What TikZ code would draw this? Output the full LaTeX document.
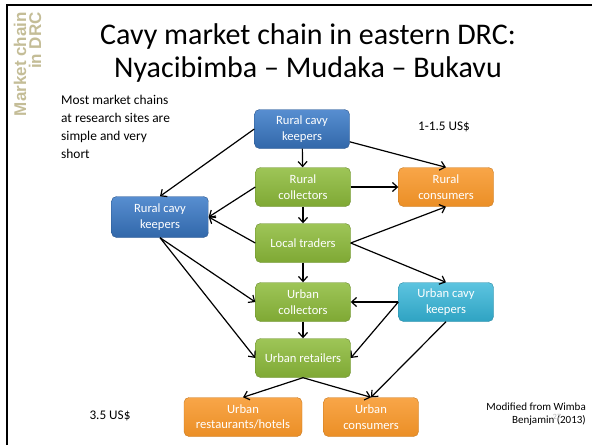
\documentclass[tikz,border=0pt]{standalone}
\usepackage{fontspec}
\setmainfont{Carlito}
\newfontfamily\sidefont{Liberation Sans}[UprightFont={* Bold}]
\usepackage{tikz}
\usetikzlibrary{arrows.meta}

\definecolor{sidekhaki}{RGB}{196,189,151}
\definecolor{boxblue}{RGB}{58,122,200}
\definecolor{boxgreen}{RGB}{141,187,58}
\definecolor{boxorange}{RGB}{247,150,40}
\definecolor{boxcyan}{RGB}{52,181,216}

\tikzset{
  chainbox/.style={rounded corners=5pt, minimum width=95pt, minimum height=39pt,
    inner sep=1pt, align=center, text=white, font=\fontsize{12.6}{15.5}\selectfont},
  bluebox/.style={chainbox, top color=boxblue!85!white, bottom color=boxblue!85!black, draw=boxblue!70!black, line width=0.4pt},
  greenbox/.style={chainbox, top color=boxgreen!85!white, bottom color=boxgreen!90!black, draw=boxgreen!75!black, line width=0.4pt},
  orangebox/.style={chainbox, top color=boxorange!85!white, bottom color=boxorange!95!black, draw=boxorange!80!black, line width=0.4pt},
  cyanbox/.style={chainbox, top color=boxcyan!80!white, bottom color=boxcyan!90!black, draw=boxcyan!75!black, line width=0.4pt},
  flow/.style={-{Straight Barb[length=5pt,width=9pt]}, line width=1.2pt},
}

\begin{document}
\begin{tikzpicture}[x=1pt,y=-1pt]
  \useasboundingbox (0,0) rectangle (592,445);
  %\draw[step=20pt,gray!30] (0,0) grid (592,445);

  % slide frame
  \draw[line width=2pt] (7,445) -- (7,5) -- (592,5);

  % side label and title
  \node[rotate=90, anchor=east, align=right, inner sep=0pt, text=sidekhaki,
    font=\sidefont\fontsize{17}{15}\selectfont] (side) at (27.5,12)
    {Market chain\\in DRC};
  \node[align=center, font=\fontsize{30}{33}\selectfont] (title) at (308,53)
    {Cavy market chain in eastern DRC:\\Nyacibimba -- Mudaka -- Bukavu};

  % boxes
  \node[bluebox]   (rck1)  at (302,129) {Rural cavy\\keepers};
  \node[greenbox]  (rcol)  at (303,187) {Rural\\collectors};
  \node[orangebox] (rcons) at (446,187) {Rural\\consumers};
  \node[bluebox, minimum width=97pt, minimum height=41pt] (rck2) at (160,217) {Rural cavy\\keepers};
  \node[greenbox]  (ltr)   at (303,243) {Local traders};
  \node[greenbox]  (ucol)  at (303,302) {Urban\\collectors};
  \node[cyanbox]   (ucck)  at (446,302) {Urban cavy\\keepers};
  \node[greenbox]  (uret)  at (303,358) {Urban retailers};
  \node[orangebox, minimum width=118pt] (urest) at (243,417) {Urban\\restaurants/hotels};
  \node[orangebox] (ucon)  at (371,417) {Urban\\consumers};

  % notes
  \node[anchor=north west, align=left, inner sep=0pt, font=\fontsize{13.4}{18}\selectfont] (note) at (61,95)
    {Most market chains\\at research sites are\\simple and very\\short};
  \node[font=\fontsize{13.2}{15}\selectfont] (price1) at (444,127) {1-1.5 US\$};
  \node[font=\fontsize{13.2}{15}\selectfont] (price2) at (110,416) {3.5 US\$};
  \node[anchor=east, align=right, inner sep=0pt, font=\fontsize{11}{13}\selectfont] (src) at (586,414)
    {Modified from Wimba\\Benjamin (2013)};
  \node[text=gray!60, font=\fontsize{8}{9}\selectfont] (pgno) at (557,417) {27};

  % flows
  \draw[flow] (rck1) -- (rcol);
  \draw[flow] (rck1.-15) -- (rcons.north);
  \draw[flow] (rck1.west) -- (rck2.north);
  \draw[flow] (rcol) -- (rcons);
  \draw[flow, {Straight Barb[length=5pt,width=9pt]}-] (rck2.east) -- (rcol.west);
  \draw[flow] (ltr.west) -- (rck2.east);
  \draw[flow] (rcol) -- (ltr);
  \draw[flow] (ltr.east) -- (rcons.south);
  \draw[flow] (ltr.east) -- (ucck.north);
  \draw[flow] (ltr) -- (ucol);
  \draw[flow] (rck2.south) -- (ucol.west);
  \draw[flow] (rck2.south) -- (uret.west);
  \draw[flow] (ucck.west) -- (ucol.east);
  \draw[flow] (ucck.west) -- (uret.east);
  \draw[flow] (ucol) -- (uret);
  \draw[flow] (ucck.south) -- (ucon.north);
  \draw[flow] (uret.south) -- (urest.north);
  \draw[flow] (uret.south) -- (ucon.north);
\end{tikzpicture}
\end{document}
